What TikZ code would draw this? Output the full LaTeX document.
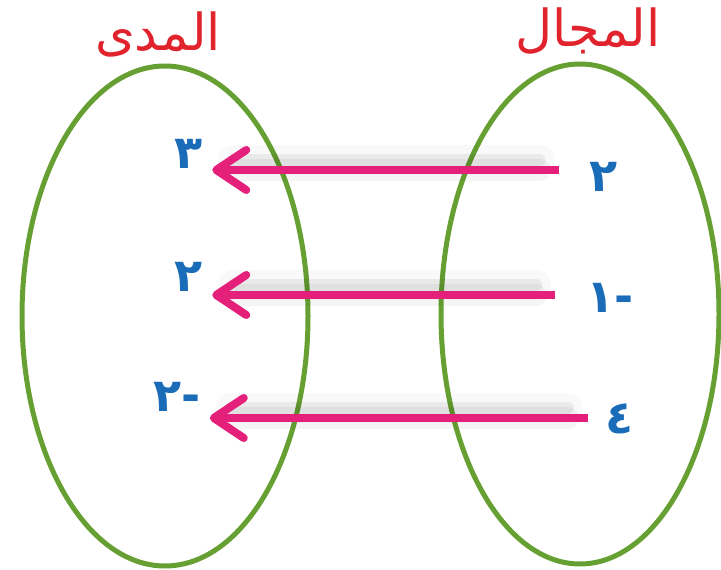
\documentclass[tikz,border=0pt]{standalone}
\usepackage{fontspec}
\usetikzlibrary{arrows.meta}
\TeXXeTstate=1
\newfontfamily\arabicfont[Script=Arabic]{DejaVu Sans}
\definecolor{setGreen}{HTML}{66A032}
\definecolor{mapPink}{HTML}{E4207A}
\definecolor{numBlue}{HTML}{1A6BB8}
\definecolor{titleRed}{HTML}{E1232D}

\begin{document}
\begin{tikzpicture}[
  x=1pt,y=-1pt,
  ring/.style={draw=setGreen,line width=5pt},
  title/.style={text=titleRed,inner sep=0pt,font=\arabicfont\fontsize{51}{51}\selectfont},
  num/.style={text=numBlue,inner sep=0pt,font=\arabicfont\bfseries\fontsize{46}{46}\selectfont},
  haze/.style={draw=black,opacity=.06,line width=12pt,line cap=round,transform canvas={yshift=10pt},
    preaction={draw=black,opacity=.04,line width=22pt,line cap=round},
    postaction={draw=black,opacity=.025,line width=30pt,line cap=round}},
  mapto/.style={draw=mapPink,line width=8pt,-{Straight Barb[round,length=30pt,width=40pt]}}
]
\useasboundingbox (0,0) rectangle (721,570);
\clip (0,0) rectangle (721,570);
\fill[white] (0,0) rectangle (721,570);

% the two sets
\draw[ring] (165,316) ellipse [x radius=143, y radius=250];
\draw[ring] (580,314) ellipse [x radius=139, y radius=250];
\node[title] (rangeTitle) at (158,34) {\beginR المدى\endR};
\node[title] (domTitle) at (588,31) {\beginR المجال\endR};

% elements
\node[num] (r1) at (189,154) {٣};
\node[num] (r2) at (189,277) {٢};
\node[num] (r3) at (177,397) {\hbox{٢}\hbox{-}};
\node[num] (d1) at (604,177) {٢};
\node[num] (d2) at (610,298) {\hbox{١}\hbox{-}};
\node[num] (d3) at (620,419) {٤};
\coordinate (row1) at (0,170);
\coordinate (row2) at (0,295);
\coordinate (row3) at (0,418);

% shadows, then arrows
\draw[haze,shorten <=50pt,shorten >=30pt] (d1.west |- row1) -- (r1.east |- row1);
\draw[haze,shorten <=50pt,shorten >=30pt] (d2.west |- row2) -- (r2.east |- row2);
\draw[haze,shorten <=38pt,shorten >=30pt] (d3.west |- row3) -- (r3.east |- row3);
\draw[mapto,shorten <=31pt,shorten >=9pt] (d1.west |- row1) -- (r1.east |- row1);
\draw[mapto,shorten <=31pt,shorten >=9pt] (d2.west |- row2) -- (r2.east |- row2);
\draw[mapto,shorten <=18pt,shorten >=9pt] (d3.west |- row3) -- (r3.east |- row3);
\end{tikzpicture}
\end{document}
